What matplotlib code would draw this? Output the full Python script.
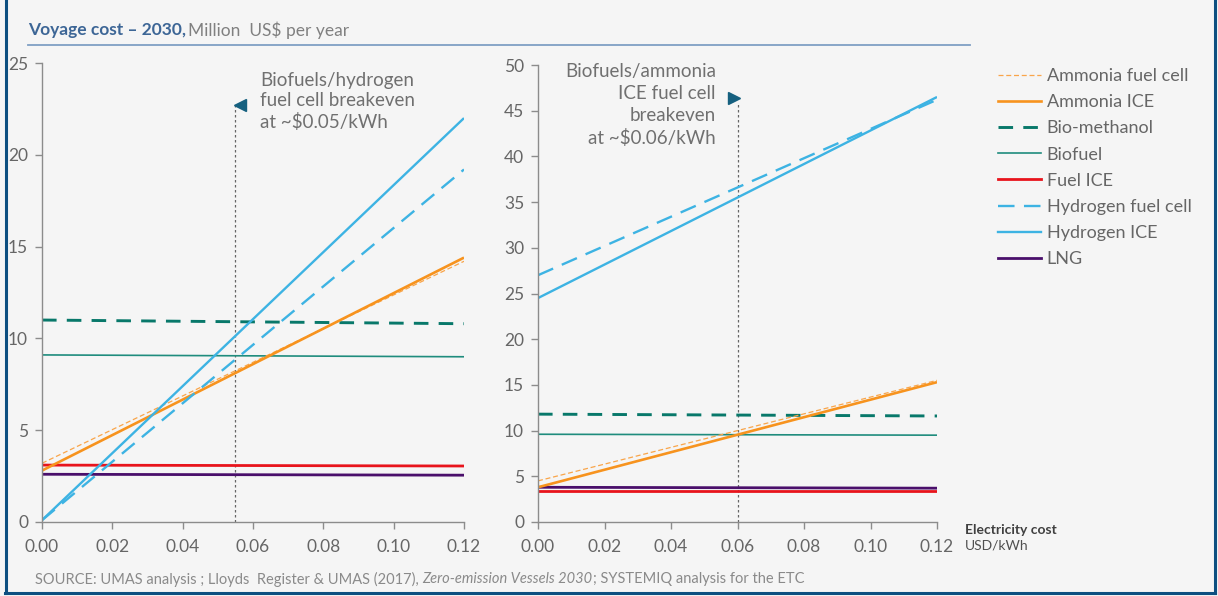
import numpy as np
import matplotlib
matplotlib.use("Agg")
import matplotlib.pyplot as plt
from matplotlib.lines import Line2D

plt.rcParams['font.family'] = ['Lato', 'DejaVu Sans']

# ---------------- data ----------------
elec = [0.00, 0.12]   # USD/kWh endpoints

series = ["Ammonia fuel cell", "Ammonia ICE", "Bio-methanol", "Biofuel",
          "Fuel ICE", "Hydrogen fuel cell", "Hydrogen ICE", "LNG"]

left_ammonia_fc = [3.2, 14.2]
left_ammonia_ice = [2.8, 14.4]
left_biomethanol = [11.0, 10.8]
left_biofuel = [9.1, 9.0]
left_fuel_ice = [3.1, 3.05]
left_h2_fc = [0.1, 19.2]
left_h2_ice = [0.1, 22.0]
left_lng = [2.6, 2.55]

right_ammonia_fc = [4.5, 15.5]
right_ammonia_ice = [3.8, 15.3]
right_biomethanol = [11.8, 11.6]
right_biofuel = [9.6, 9.5]
right_fuel_ice = [3.4, 3.4]
right_h2_fc = [27.0, 46.2]
right_h2_ice = [24.5, 46.5]
right_lng = [3.8, 3.7]

left_breakeven = 0.055
right_breakeven = 0.06
left_breakeven_top = 22.7
right_breakeven_top = 45.8

xticks = [0.00, 0.02, 0.04, 0.06, 0.08, 0.10, 0.12]
xticklabels = ["0.00", "0.02", "0.04", "0.06", "0.08", "0.10", "0.12"]
left_yticks = [0, 5, 10, 15, 20, 25]
right_yticks = [0, 5, 10, 15, 20, 25, 30, 35, 40, 45, 50]

# ---------------- styles ----------------
ORANGE = "#f7931e"
TEAL_D = "#08786a"
TEAL = "#1f8c7d"
RED = "#e8141c"
BLUE = "#3db3e3"
PURPLE = "#4a0f6b"
styles = {
    "Ammonia fuel cell": dict(color="#f9a54a", lw=0.9, dashes=(4, 2.2)),
    "Ammonia ICE": dict(color=ORANGE, lw=1.9),
    "Bio-methanol": dict(color=TEAL_D, lw=2.1, dashes=(5, 3.5)),
    "Biofuel": dict(color=TEAL, lw=1.2),
    "Fuel ICE": dict(color=RED, lw=2.0),
    "Hydrogen fuel cell": dict(color=BLUE, lw=1.7, dashes=(7, 4)),
    "Hydrogen ICE": dict(color=BLUE, lw=1.7),
    "LNG": dict(color=PURPLE, lw=2.0),
}
order_draw = ["Biofuel", "Bio-methanol", "LNG", "Fuel ICE", "Ammonia fuel cell",
              "Ammonia ICE", "Hydrogen fuel cell", "Hydrogen ICE"]

BG = "#f5f5f5"
W, H = 1218, 596
fig = plt.figure(figsize=(W / 100, H / 100), dpi=100, facecolor=BG)

def fx(px):
    return px / W

def fy(py):
    return 1 - py / H

axL = fig.add_axes([fx(42), fy(522), fx(464) - fx(42), fy(63) - fy(522)])
axR = fig.add_axes([fx(538), fy(522), fx(937) - fx(538), fy(65) - fy(522)])

left_data = dict(zip(series, [left_ammonia_fc, left_ammonia_ice, left_biomethanol, left_biofuel,
                              left_fuel_ice, left_h2_fc, left_h2_ice, left_lng]))
right_data = dict(zip(series, [right_ammonia_fc, right_ammonia_ice, right_biomethanol, right_biofuel,
                               right_fuel_ice, right_h2_fc, right_h2_ice, right_lng]))

AX_COL = "#8c8c8c"
TXT = "#666666"

def style_ax(ax, yticks, ymax):
    ax.set_facecolor("none")
    ax.set_xlim(0, 0.12)
    ax.set_ylim(0, ymax)
    for s in ["top", "right"]:
        ax.spines[s].set_visible(False)
    for s in ["left", "bottom"]:
        ax.spines[s].set_color(AX_COL)
        ax.spines[s].set_linewidth(1.0)
    ax.set_xticks(xticks)
    ax.set_xticklabels(xticklabels)
    ax.set_yticks(yticks)
    ax.tick_params(axis="both", colors=AX_COL, labelcolor=TXT, labelsize=12.5,
                   length=5, width=1.0, direction="out")
    ax.tick_params(axis="x", pad=7)
    ax.tick_params(axis="y", pad=5)

def draw(ax, data):
    for name in order_draw:
        st = dict(styles[name])
        dashes = st.pop("dashes", None)
        ln, = ax.plot(elec, data[name], solid_capstyle="butt", **st)
        if dashes is not None:
            ln.set_dashes(dashes)
            ln.set_dash_capstyle("butt")

draw(axL, left_data)
draw(axR, right_data)
style_ax(axL, left_yticks, 25)
style_ax(axR, right_yticks, 50)

# break-even markers
axL.plot([left_breakeven, left_breakeven], [0, left_breakeven_top], color="#666666",
         lw=0.9, dashes=(2, 2), zorder=1)
axR.plot([right_breakeven, right_breakeven], [0, right_breakeven_top], color="#666666",
         lw=0.9, dashes=(2, 2), zorder=1)
ARROW = "#15607f"
axL.plot([left_breakeven + 0.0012], [left_breakeven_top], marker="<", color=ARROW,
         markersize=8, clip_on=False, lw=0)
axR.plot([right_breakeven - 0.0012], [right_breakeven_top + 0.6], marker=">", color=ARROW,
         markersize=8, clip_on=False, lw=0)

ANN = "#707070"
axL.text(0.0620, 22.9, "Biofuels/hydrogen\nfuel cell breakeven\nat ~$0.05/kWh",
         ha="left", va="center", fontsize=13.5, color=ANN, linespacing=1.22)
axR.text(0.0535, 45.6, "Biofuels/ammonia\nICE fuel cell\nbreakeven\nat ~$0.06/kWh",
         ha="right", va="center", fontsize=13.5, color=ANN, linespacing=1.34)

# legend
leg_handles = [Line2D([], [], **{k: v for k, v in styles[n].items() if k != "dashes"}) for n in series]
for n, h in zip(series, leg_handles):
    if "dashes" in styles[n]:
        h.set_dashes(styles[n]["dashes"])
leg = fig.legend(leg_handles, series, loc="upper left",
                 bbox_to_anchor=(fx(998), fy(68)), frameon=False, fontsize=13,
                 borderpad=0, borderaxespad=0, handlelength=2.4, handletextpad=0.3,
                 labelspacing=0.565, labelcolor=TXT)

# axis title at the lower right
fig.text(fx(965), fy(530), "Electricity cost", fontsize=10, fontweight="bold",
         color="#404040", ha="left", va="center")
fig.text(fx(965), fy(546), "USD/kWh", fontsize=10, color="#505050", ha="left", va="center")

# title and rule
renderer = fig.canvas.get_renderer()
t1 = fig.text(fx(28), fy(30), "Voyage cost \u2013 2030,", fontsize=12.5, fontweight="bold",
              color="#3d6696", ha="left", va="center")
bb = t1.get_window_extent(renderer)
fig.text(bb.x1 / W + 0.002, fy(30), "Million  US$ per year", fontsize=12.5, color="#808080",
         ha="left", va="center")
fig.add_artist(Line2D([fx(28), fx(970)], [fy(45), fy(45)], color="#7f9fc4", lw=1.3,
                      transform=fig.transFigure))

# source line
parts = [("SOURCE: UMAS analysis ; Lloyds  Register & UMAS (2017), ", "normal"),
         ("Zero-emission Vessels 2030", "italic"),
         ("; SYSTEMIQ analysis for the ETC", "normal")]
xpos = fx(35)
for txt, sty in parts:
    t = fig.text(xpos, fy(579), txt, fontsize=10.5, style=sty, color="#8a8a8a",
                 ha="left", va="center")
    xpos = t.get_window_extent(renderer).x1 / W

# frame
FR = "#0d4f80"
for xs, ys in [([fx(6), fx(6)], [fy(0), fy(593)]),
               ([fx(5), fx(1215)], [fy(593), fy(593)]),
               ([fx(1215), fx(1215)], [fy(0), fy(593)])]:
    fig.add_artist(Line2D(xs, ys, color=FR, lw=2.2, transform=fig.transFigure))

fig.savefig("out.png", dpi=100, facecolor=BG)
